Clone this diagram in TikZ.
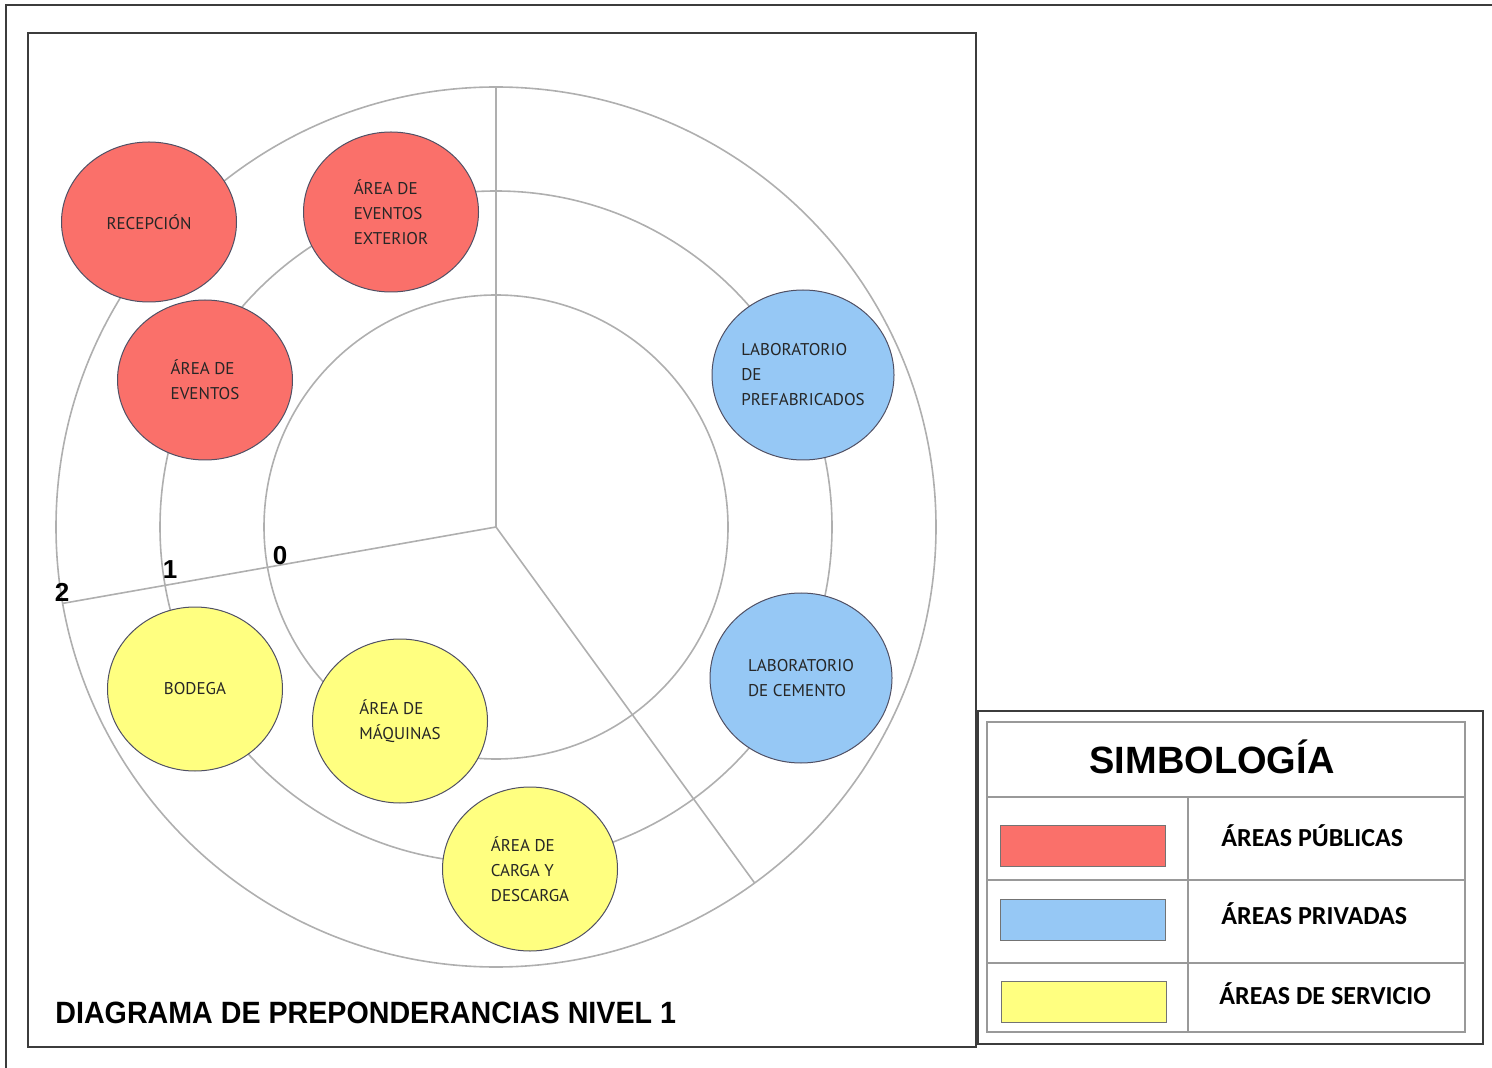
\documentclass[tikz,border=0pt]{standalone}
\usepackage{fontspec}
\usetikzlibrary{shapes.geometric}
\newfontfamily\areafont{PT Sans}
\newfontfamily\headfont{Liberation Sans}
\newfontfamily\titlefont[FakeStretch=0.93]{Liberation Sans}
\newfontfamily\legfont{Carlito}
\definecolor{pubred}{RGB}{250, 112, 106}
\definecolor{privblue}{RGB}{150, 200, 245}
\definecolor{servyellow}{RGB}{255, 255, 128}
\definecolor{ringgray}{RGB}{175, 175, 175}
\definecolor{edgeslate}{RGB}{80, 80, 100}
\definecolor{framegray}{RGB}{60, 60, 60}

\begin{document}
\begin{tikzpicture}[
    x=0.5pt, y=-0.5pt,
    ring/.style={draw=ringgray, line width=0.8pt},
    area/.style={ellipse, draw=edgeslate, line width=0.5pt, inner sep=0pt,
                 align=left, text=black!85,
                 font=\areafont\fontsize{8.5}{12.5}\selectfont,
                 minimum width=87.5pt, minimum height=80pt},
    publica/.style={area, fill=pubred},
    privada/.style={area, fill=privblue, minimum width=91pt, minimum height=85pt},
    servicio/.style={area, fill=servyellow, minimum height=82pt},
    level/.style={inner sep=0pt, font=\headfont\bfseries\fontsize{13}{15}\selectfont},
    swatch/.style={rectangle, draw=black!55, line width=0.5pt,
                   minimum width=82.5pt, minimum height=20.5pt, inner sep=0pt},
    leglabel/.style={anchor=west, inner sep=0pt,
                     font=\legfont\bfseries\fontsize{13}{15}\selectfont}
  ]
    \useasboundingbox (0,0) rectangle (1492,1068);

    % frames
    \draw[framegray, line width=1pt] (6,1068) -- (6,5) -- (1492,5);
    \draw[framegray, line width=1pt] (28,33) rectangle (976,1047);

    % rings and sectors
    \coordinate (c) at (496,527);
    \draw[ring] (c) circle (232);
    \draw[ring] (c) circle (336);
    \draw[ring] (c) circle (440);
    \draw[ring] (c) -- ++(-90:440);
    \draw[ring] (c) -- ++(170:440);
    \draw[ring] (c) -- ++(54:440);

    \node[level] (n2) at (62,592)  {2};
    \node[level] (n1) at (170,570) {1};
    \node[level] (n0) at (280,556) {0};

    % areas
    \node[publica]  (recep)  at (149,222) {RECEPCIÓN};
    \node[publica]  (evext)  at (391,212) {ÁREA DE\\EVENTOS\\EXTERIOR};
    \node[publica]  (evento) at (205,380) {ÁREA DE\\EVENTOS};
    \node[privada]  (labpre) at (803,375) {LABORATORIO\\DE\\PREFABRICADOS};
    \node[privada]  (labcem) at (801,678) {LABORATORIO\\DE CEMENTO};
    \node[servicio] (bodega) at (195,689) {BODEGA};
    \node[servicio] (maq)    at (400,721) {ÁREA DE\\MÁQUINAS};
    \node[servicio] (carga)  at (530,869) {ÁREA DE\\CARGA Y\\DESCARGA};

    \node[anchor=west, inner sep=0pt,
          font=\titlefont\bfseries\fontsize{15.4}{18}\selectfont] (titulo)
          at (55,1013) {DIAGRAMA DE PREPONDERANCIAS NIVEL 1};

    % legend
    \draw[framegray, line width=1pt] (978,711) rectangle (1483,1044);
    \draw[black!40, line width=0.7pt] (987,722) rectangle (1465,1032);
    \draw[black!40, line width=0.7pt] (987,797) -- (1465,797);
    \draw[black!40, line width=0.7pt] (987,880) -- (1465,880);
    \draw[black!40, line width=0.7pt] (987,963) -- (1465,963);
    \draw[black!40, line width=0.7pt] (1188,797) -- (1188,1032);

    \node[font=\headfont\bfseries\fontsize{19}{22}\selectfont, inner sep=0pt]
          (simb) at (1212,757) {SIMBOLOGÍA};

    \node[swatch, fill=pubred]     (swpub)  at (1082.5,845.5) {};
    \node[swatch, fill=privblue]   (swpriv) at (1082.5,920)   {};
    \node[swatch, fill=servyellow] (swserv) at (1083.5,1001.5) {};

    \node[leglabel] (lbpub)  at (1221,836) {ÁREAS PÚBLICAS};
    \node[leglabel] (lbpriv) at (1221,914) {ÁREAS PRIVADAS};
    \node[leglabel] (lbserv) at (1219,994) {ÁREAS DE SERVICIO};
\end{tikzpicture}
\end{document}
